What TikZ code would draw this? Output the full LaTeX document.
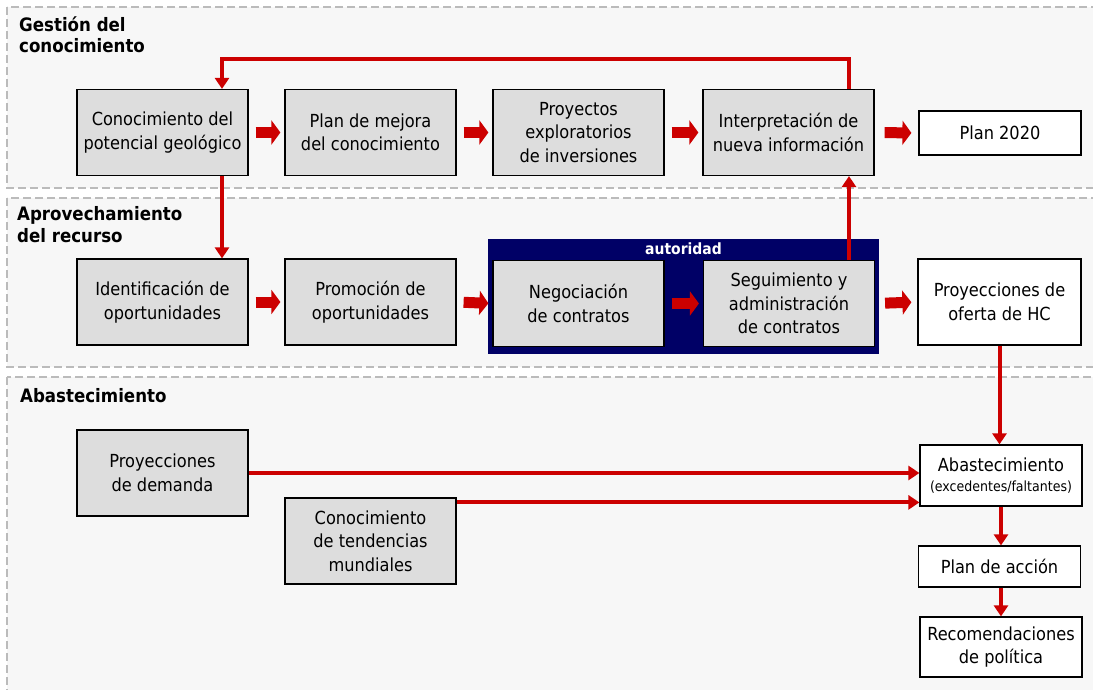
\documentclass[tikz,border=0pt]{standalone}
\usepackage{fontspec}
\setmainfont{DejaVu Sans Condensed}
\usetikzlibrary{arrows.meta}
\definecolor{ArrowRed}{RGB}{204,0,0}
\definecolor{BoxGray}{RGB}{221,221,221}
\definecolor{PanelGray}{RGB}{247,247,247}
\definecolor{DashGray}{RGB}{187,187,187}
\definecolor{MyNavy}{RGB}{0,0,102}
\tikzset{
  panel/.style={draw=DashGray,fill=PanelGray,line width=2pt,dash pattern=on 8pt off 4pt},
  box/.style={draw=black,fill=BoxGray,line width=1.2pt,minimum width=171pt,minimum height=86pt,
    align=center,inner sep=2pt,font=\fontsize{18}{23.5}\selectfont},
  outbox/.style={box,fill=white,minimum width=162pt},
  fat/.style={ArrowRed,line width=11pt,-{Triangle[length=9pt,width=24pt]},shorten <=7pt,shorten >=4pt},
  link/.style={ArrowRed,line width=4pt,-{Triangle[length=11pt,width=14pt]}},
  title/.style={anchor=base west,align=left,inner sep=0pt,font=\fontsize{18.5}{21.5}\selectfont\bfseries}
}

\begin{document}
\begin{tikzpicture}[x=1pt,y=-1pt]
  \useasboundingbox (0,0) rectangle (1093,690);
  \fill[white] (0,0) rectangle (1093,690);
  % panels
  \draw[panel] (7,7) rectangle (1110,188);
  \draw[panel] (7,198) rectangle (1110,367);
  \draw[panel] (7,377) rectangle (1110,710);
  \node[title] (t1) at (19,53) {Gestión del\\conocimiento};
  \node[title] (t2) at (17,242) {Aprovechamiento\\del recurso};
  \node[title] (t3) at (20,402) {Abastecimiento};

  \node[fill=MyNavy,minimum width=391pt,minimum height=115pt,inner sep=0pt] (aut) at (683.5,296.5) {};
  \node[anchor=base,text=white,inner sep=0pt,font=\fontsize{15.5}{17}\selectfont\bfseries] (autl) at ([yshift=-16pt]aut.north) {autoridad};

  \node[box] (b1) at (162.5,132.5) {Conocimiento del\\potencial geológico};
  \node[box] (b2) at (370.5,132.5) {Plan de mejora\\del conocimiento};
  \node[box] (b3) at (578.5,132.5) {Proyectos\\exploratorios\\de inversiones};
  \node[box] (b4) at (788.5,132.5) {Interpretación de\\nueva información};
  \node[outbox,minimum height=44pt] (b5) at (1000,133) {Plan 2020};

  \node[box] (c1) at (162.5,302) {Identificación de\\oportunidades};
  \node[box] (c2) at (370.5,302) {Promoción de\\oportunidades};
  \node[box] (c3) at (578.5,303.5) {Negociación\\de contratos};
  \node[box] (c4) at (789,303.5) {Seguimiento y\\administración\\de contratos};
  \node[outbox,minimum width=163pt] (c5) at (999.5,302) {Proyecciones de\\oferta de HC};

  \node[box] (d1) at (162.5,473) {Proyecciones\\de demanda};
  \node[box] (d2) at (370.5,541) {Conocimiento\\de tendencias\\mundiales};
  \node[outbox,minimum height=61pt] (e1) at (1001,475.5) {Abastecimiento\\[-4pt]{\fontsize{14}{16}\selectfont(excedentes/faltantes)}};
  \node[outbox,minimum height=41pt] (e2) at (999.5,566.5) {Plan de acción};
  \node[outbox,minimum height=60pt] (e3) at (1001,647) {Recomendaciones\\de política};

  \draw[fat] (b1.east) -- (b2.west);
  \draw[fat] (b2.east) -- (b3.west);
  \draw[fat] (b3.east) -- (b4.west);
  \draw[fat,shorten <=10pt,shorten >=7pt] (b4.east) -- (b5.west);
  \draw[fat] (c1.east) -- (c2.west);
  \draw[fat] (c2.east) -- (c3.west);
  \draw[fat] (c3.east) -- (c4.west);
  \draw[fat,shorten <=10pt,shorten >=6pt] (c4.east) -- (c5.west);

  \coordinate (fbR) at (849,59);
  \coordinate (fbL) at (222,59);
  \draw[link] (b4.north -| fbR) -- (fbR) -- (fbL) -- (b1.north -| fbL);
  \draw[link] (b1.south -| fbL) -- (c1.north -| fbL);
  \draw[link] (c4.north -| fbR) -- (b4.south -| fbR);
  \draw[link] (c5.south) -- (c5.south |- e1.north);
  \draw[link] (d1.east) -- (d1.east -| e1.west);
  \draw[link] ([yshift=-5pt]d2.north east) -- ([yshift=-5pt]d2.north east -| e1.west);
  \draw[link] (e1.south) -- (e1.south |- e2.north);
  \draw[link] (e2.south -| e1.south) -- (e3.north);
\end{tikzpicture}
\end{document}
